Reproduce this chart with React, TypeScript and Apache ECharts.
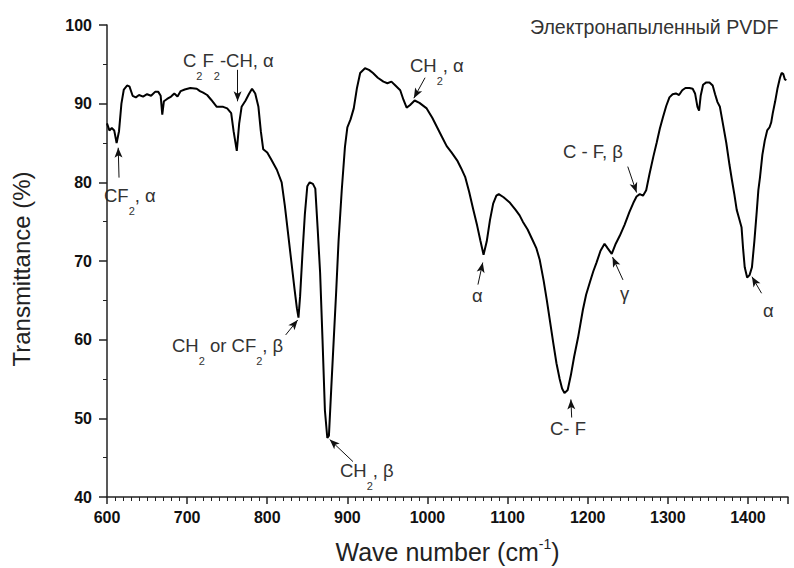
import React, { useEffect, useRef } from 'react';
import * as echarts from 'echarts';

const wavenumbers = [
  600, 603, 606, 609, 612, 615, 618, 621, 625, 628, 632, 636, 640, 645, 650, 655, 660, 664, 667, 669,
  671, 675, 680, 684, 688, 692, 697, 704, 712, 716, 720, 725, 730, 737, 745, 750, 755, 758, 762, 765,
  768, 773, 777, 781, 785, 789, 792, 795, 800, 805, 812, 818, 822, 826, 830, 834, 837, 839, 841, 844,
  847, 850, 853, 857, 860, 863, 866, 869, 872, 875, 877, 880, 883, 886, 889, 893, 897, 900, 904, 908,
  912, 916, 922, 927, 932, 938, 945, 950, 955, 960, 966, 970, 974, 978, 984, 990, 999, 1006, 1012, 1018,
  1024, 1030, 1037, 1042, 1047, 1052, 1057, 1062, 1066, 1070, 1074, 1078, 1082, 1086, 1089, 1095, 1103, 1110, 1115, 1119,
  1125, 1131, 1136, 1140, 1145, 1149, 1153, 1157, 1161, 1165, 1168, 1171, 1175, 1179, 1183, 1188, 1194, 1198, 1203, 1207,
  1211, 1216, 1221, 1225, 1230, 1235, 1240, 1246, 1252, 1257, 1261, 1265, 1269, 1273, 1277, 1282, 1286, 1290, 1294, 1298,
  1302, 1306, 1310, 1314, 1318, 1322, 1327, 1331, 1334, 1337, 1339, 1341, 1344, 1348, 1352, 1356, 1359, 1362, 1365, 1369,
  1373, 1377, 1380, 1383, 1386, 1389, 1392, 1394, 1396, 1399, 1402, 1405, 1408, 1411, 1413, 1415, 1418, 1421, 1424, 1427,
  1429, 1431, 1434, 1437, 1440, 1442, 1444, 1446, 1448,
];

const transmittance = [
  87.5, 86.6, 86.9, 86.6, 85.0, 86.5, 90.0, 91.8, 92.3, 92.2, 91.0, 90.8, 91.1, 90.9, 91.2, 91.0, 91.5, 91.5, 91.0, 88.6,
  90.3, 90.6, 90.9, 91.3, 90.9, 91.6, 91.8, 92.0, 91.9, 91.6, 91.4, 91.1, 90.5, 89.6, 89.6, 89.4, 88.8, 86.5, 84.0, 87.5,
  89.6, 90.4, 91.2, 91.9, 91.3, 89.6, 86.5, 84.2, 83.8, 82.9, 81.6, 80.0, 77.0, 73.5, 70.0, 66.5, 64.0, 62.8, 65.5, 71.0,
  76.0, 79.5, 80.0, 79.8, 79.2, 74.0, 68.5, 60.0, 51.0, 47.5, 47.8, 54.0, 60.0, 66.0, 72.5, 79.0, 84.5, 87.0, 88.0, 89.4,
  92.0, 93.9, 94.5, 94.3, 93.9, 93.3, 92.8, 92.6, 92.8, 92.3, 91.7, 90.5, 89.5, 89.8, 90.4, 90.1, 89.4, 88.2, 87.0, 85.8,
  84.6, 83.8, 82.8, 81.8, 80.7, 78.8, 76.6, 74.5, 72.6, 70.8, 72.5, 75.2, 77.3, 78.3, 78.5, 78.1, 77.4, 76.5, 75.8, 75.0,
  74.0, 72.7, 71.6, 70.2, 67.5, 65.0, 62.3, 59.6, 57.0, 55.0, 53.8, 53.2, 53.6, 55.5, 57.8, 60.3, 63.8, 65.7, 67.4, 68.7,
  69.8, 71.3, 72.2, 71.6, 70.9, 72.2, 73.2, 74.6, 76.2, 77.4, 78.2, 78.5, 78.3, 79.0, 81.0, 83.3, 85.0, 86.8, 88.3, 89.7,
  90.8, 91.2, 91.3, 91.1, 91.7, 92.0, 92.0, 91.9, 91.3, 89.6, 89.1, 91.0, 92.4, 92.7, 92.7, 92.3, 91.2, 90.2, 89.6, 87.3,
  85.0, 82.2, 80.3, 78.5, 76.5, 75.4, 74.3, 71.5, 69.2, 67.9, 68.2, 69.2, 72.5, 76.3, 79.0, 80.6, 83.5, 85.3, 86.6, 87.0,
  87.6, 88.8, 90.3, 92.0, 93.3, 93.9, 93.8, 93.1, 93.0,
];

const xRange = [600, 1450];
const xStep = 100;
const yRange = [40, 100];
const yStep = 10;

// arrows: [wavenumber, transmittance] of tail and head
const arrowFrom = [
  [615, 80.6], [763, 94.3], [997, 93.3], [823, 60.6], [907, 44.5],
  [1063, 67.0], [1180, 50.1], [1250, 82.0], [1244, 67.6], [1417, 65.9],
];
const arrowTo = [
  [614, 84.4], [763, 90.3], [983, 90.7], [838, 62.5], [878, 47.3],
  [1069, 69.8], [1179, 52.4], [1261, 78.7], [1231, 70.5], [1405, 68.0],
];

const title = 'Электронапыленный PVDF';
const bandLabels = [
  'CF{s|2}, α',
  'C{s|2}F{s|2}-CH, α',
  'CH{s|2}, α',
  'CH{s|2} or CF{s|2}, β',
  'CH{s|2}, β',
  'α',
  'C- F',
  'C - F, β',
  'γ',
  'α',
];

const FONT = '"Liberation Sans", Arial, sans-serif';
const labelPos = [
  [104, 195], [183, 60], [410, 65], [172, 345], [340, 470],
  [472, 295], [550, 428], [563, 151], [620, 293], [763, 310],
];

export default function App() {
  const ref = useRef<HTMLDivElement>(null);
  useEffect(() => {
    if (!ref.current) return;
    const chart = echarts.init(ref.current, undefined, { renderer: 'svg' });
    const data = wavenumbers.map((w, i) => [w, transmittance[i]]);
    const rich = {
      m: { fontSize: 18.5, fontFamily: FONT, color: '#333' },
      s: { fontSize: 11, fontFamily: FONT, color: '#333', padding: [32, 0, 0, 0] },
    };
    chart.setOption({
      animation: false,
      backgroundColor: '#fff',
      grid: {
        left: 107, right: 6, top: 25, bottom: 71,
        containLabel: false, outerBoundsMode: 'none',
      },
      xAxis: {
        type: 'value',
        min: xRange[0],
        max: xRange[1],
        interval: xStep,
        name: 'Wave number (cm{sup|-1})',
        nameLocation: 'middle',
        nameGap: 40,
        nameTextStyle: {
          fontSize: 25, fontFamily: FONT, color: '#222',
          rich: { sup: { fontSize: 14, fontFamily: FONT, color: '#222', padding: [0, 0, 16, 0] } },
        },
        axisLine: { show: true, lineStyle: { color: '#222', width: 1.5 } },
        axisTick: { show: true, inside: false, length: 7, lineStyle: { color: '#222', width: 1.5 } },
        minorTick: { show: true, splitNumber: 10, length: 4, lineStyle: { color: '#222', width: 1 } },
        axisLabel: {
          margin: 12, fontSize: 16, fontWeight: 'bold', fontFamily: FONT, color: '#111',
          showMaxLabel: false,
          formatter: (v: number) => String(v),
        },
        splitLine: { show: false },
      },
      yAxis: {
        type: 'value',
        min: yRange[0],
        max: yRange[1],
        interval: yStep,
        name: 'Transmittance (%)',
        nameLocation: 'middle',
        nameGap: 74,
        nameRotate: 90,
        nameTextStyle: { fontSize: 24, fontFamily: FONT, color: '#222', padding: [0, 16, 0, 0] },
        axisLine: { show: true, lineStyle: { color: '#222', width: 1.5 } },
        axisTick: { show: true, inside: false, length: 8, lineStyle: { color: '#222', width: 1.5 } },
        minorTick: { show: true, splitNumber: 2, length: 4, lineStyle: { color: '#222', width: 1 } },
        axisLabel: {
          margin: 15, fontSize: 16, fontWeight: 'bold', fontFamily: FONT, color: '#111',
          formatter: (v: number) => String(v),
        },
        splitLine: { show: false },
      },
      series: [
        {
          type: 'line',
          data,
          showSymbol: false,
          symbol: 'none',
          smooth: false,
          lineStyle: { color: '#000', width: 2 },
          markLine: {
            silent: true,
            symbol: ['none', 'arrow'],
            symbolSize: [6, 10],
            label: { show: false },
            lineStyle: { color: '#111', width: 1, type: 'solid' },
            data: arrowFrom.map((f, i) => [
              { coord: f },
              { coord: arrowTo[i] },
            ]),
          },
        },
      ],
      graphic: [
        {
          type: 'text',
          x: 530,
          y: 27,
          style: { text: title, font: `19.6px ${FONT}`, fill: '#333', verticalAlign: 'middle', align: 'left' },
        },
        ...bandLabels.map((t, i) => ({
          type: 'text',
          x: labelPos[i][0],
          y: labelPos[i][1],
          style: {
            text: t.replace(/^([^{]+)/, '{m|$1}').replace(/\}([^{]+)/g, '}{m|$1}'),
            rich,
            font: `18.5px ${FONT}`,
            fill: '#333',
            verticalAlign: 'middle',
            align: 'left',
          },
        })),
      ],
    });
    return () => chart.dispose();
  }, []);
  return (
    <div
      ref={ref}
      style={{ position: 'fixed', left: 0, top: 0, width: 794, height: 568, background: '#fff' }}
    />
  );
}
